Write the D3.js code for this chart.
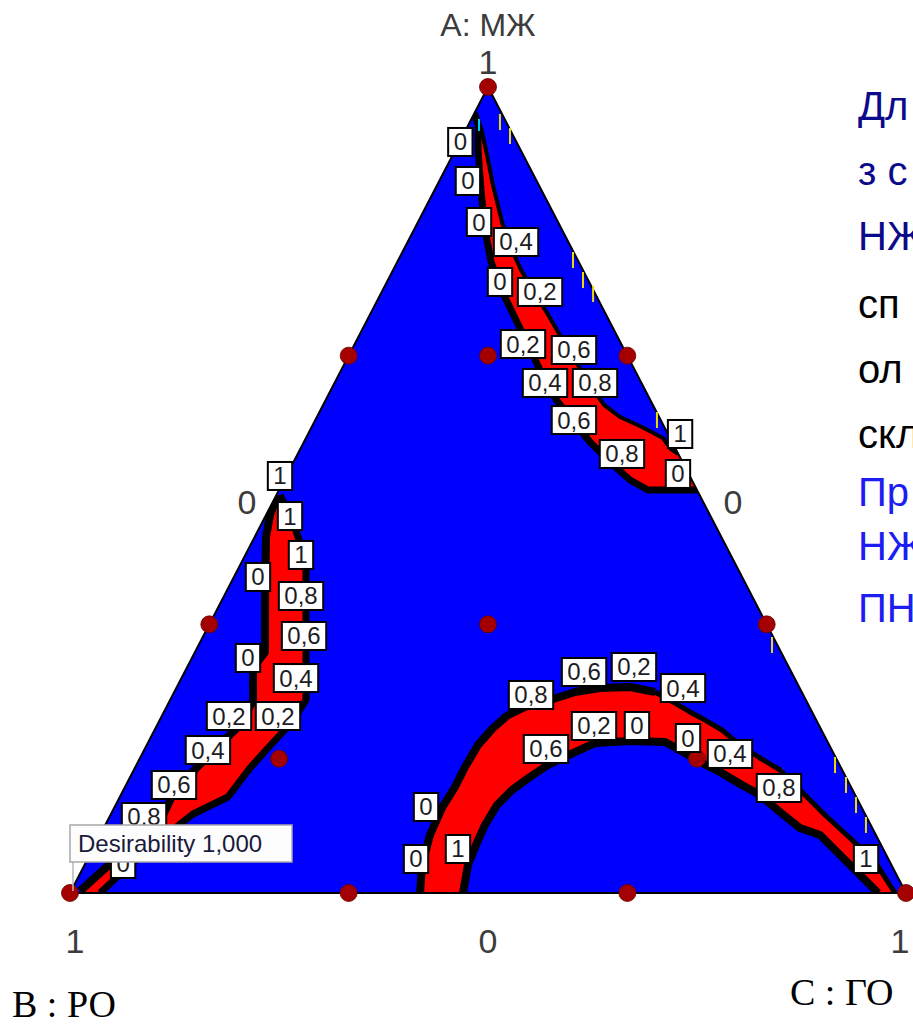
<!DOCTYPE html>
<html>
<head>
<meta charset="utf-8">
<script src="https://cdn.jsdelivr.net/npm/d3@7"></script>
<style>
  html, body { margin: 0; padding: 0; background: #fff; overflow: hidden; }
  svg { display: block; }
</style>
</head>
<body>
<svg id="chart" width="913" height="1027"></svg>
<script>
// Mixture components: A = МЖ (top vertex), B = РО (lower left), C = ГО (lower right).
// Every point below is [A, C]; the B share is 1 - A - C.

// Design points of the mixture plan
const designPoints = [
  [1, 0], [0, 0], [0, 1],
  [0.6667, 0], [0.3333, 0],
  [0.6667, 0.3333], [0.3333, 0.6667],
  [0, 0.3333], [0, 0.6667],
  [0.6667, 0.1667], [0.3333, 0.3333],
  [0.1667, 0.1667], [0.1667, 0.6667]
];

// Desirability band along the A–C edge (upper right)
const bandTopOuter = [
  [0.9677, 0.000], [0.9529, 0.0116], [0.9218, 0.0272], [0.8722, 0.0555],
  [0.8226, 0.0852], [0.7829, 0.1122], [0.7444, 0.1457], [0.7109, 0.1780],
  [0.6799, 0.2079], [0.6464, 0.2402], [0.6141, 0.2731], [0.5868, 0.3071],
  [0.5596, 0.3422], [0.5347, 0.3786], [0.5124, 0.4136], [0.5000, 0.4414],
  [0.5000, 0.5000]
];
const bandTopInner = [
  [0.9615, 0.0061], [0.9491, 0.0171], [0.9218, 0.0367], [0.8784, 0.0667],
  [0.8325, 0.1005], [0.8002, 0.1274], [0.7730, 0.1530], [0.7457, 0.1822],
  [0.7196, 0.2108], [0.6898, 0.2425], [0.6613, 0.2734], [0.6303, 0.3068],
  [0.6055, 0.3360], [0.5906, 0.3626], [0.5782, 0.3951], [0.5645, 0.4270],
  [0.5509, 0.4434], [0.5447, 0.4553]
];

// Desirability band near the A–B edge (left)
const bandLeftOuter = [
  [0.4938, 0.001], [0.4690, 0.0048], [0.4417, 0.0136], [0.3635, 0.0516],
  [0.2990, 0.0837], [0.2792, 0.0793], [0.2395, 0.0992], [0.2109, 0.1002],
  [0.1687, 0.0795], [0.1278, 0.0617], [0.0968, 0.0628], [0.0471, 0.0362],
  [0.0025, 0.0108]
];
const bandLeftInner = [
  [0.4938, 0.0043], [0.4628, 0.0342], [0.4280, 0.0635], [0.4007, 0.0819],
  [0.2395, 0.1626], [0.2122, 0.1594], [0.1799, 0.1469], [0.1551, 0.1378],
  [0.1191, 0.1294], [0.0980, 0.0981], [0.0658, 0.0748], [0.0347, 0.0544],
  [0.0000, 0.0359]
];

// Arch-shaped band resting on the B–C edge
const archOuter = [
  [0, 0.4187], [0.0347, 0.4037], [0.0720, 0.3946], [0.1055, 0.3922],
  [0.1315, 0.3947], [0.1563, 0.3944], [0.1836, 0.3962], [0.2047, 0.4036],
  [0.2208, 0.4135], [0.2308, 0.4288], [0.2395, 0.4544], [0.2494, 0.4794],
  [0.2543, 0.5068], [0.2556, 0.5421], [0.2494, 0.5751], [0.2357, 0.6059],
  [0.2246, 0.6293], [0.2146, 0.6523], [0.2022, 0.6788], [0.1836, 0.7096],
  [0.1675, 0.7416], [0.1526, 0.7730], [0.1278, 0.8093], [0.0968, 0.8547],
  [0.0682, 0.8989], [0.0385, 0.9437], [0, 0.9868]
];
const archInner = [
  [0, 0.4701], [0.0347, 0.4587], [0.0596, 0.4559], [0.0844, 0.4542],
  [0.1092, 0.4562], [0.1278, 0.4648], [0.1439, 0.4782], [0.1588, 0.4923],
  [0.1749, 0.5166], [0.1861, 0.5349], [0.1886, 0.5756], [0.1873, 0.6181],
  [0.1774, 0.6409], [0.1625, 0.6724], [0.1501, 0.7024], [0.1340, 0.7368],
  [0.1216, 0.7646], [0.1005, 0.7990], [0.0806, 0.8329], [0.0720, 0.8611],
  [0.0347, 0.9157], [0, 0.9665]
];

// Contour level labels: [text, A, C]
const contourLabels = [
  ["0", 0.9318, 0.001], ["0", 0.8834, 0.0343], ["0", 0.8325, 0.0730],
  ["0,4", 0.8077, 0.1297], ["0", 0.7581, 0.1353], ["0,2", 0.7457, 0.1894],
  ["0,2", 0.6811, 0.2013], ["0,6", 0.6737, 0.2660], ["0,4", 0.6328, 0.2518],
  ["0,8", 0.6328, 0.3116], ["0,6", 0.5868, 0.3094], ["0,8", 0.5447, 0.3879],
  ["1", 0.5695, 0.4450], ["0", 0.5199, 0.4673],

  ["1", 0.5174, -0.0075], ["1", 0.4677, 0.0293], ["1", 0.4194, 0.0666],
  ["0", 0.3921, 0.0288], ["0,8", 0.3685, 0.0921], ["0,6", 0.3189, 0.1205],
  ["0", 0.2916, 0.0671], ["0,4", 0.2667, 0.1370], ["0,2", 0.2196, 0.0804],
  ["0,2", 0.2196, 0.1390], ["0,4", 0.1774, 0.0763], ["0,6", 0.1340, 0.0574],
  ["0,8", 0.0943, 0.0414], ["0", 0.0360, 0.0455],

  ["0,8", 0.2457, 0.4286], ["0,6", 0.2742, 0.4778], ["0,2", 0.2804, 0.5344],
  ["0,4", 0.2543, 0.6061], ["0,2", 0.2072, 0.5232], ["0", 0.2072, 0.5746],
  ["0,6", 0.1787, 0.4800], ["0", 0.1923, 0.6431], ["0,4", 0.1725, 0.7032],
  ["0,8", 0.1303, 0.7829], ["0", 0.1067, 0.3725], ["0", 0.0422, 0.3928],
  ["1", 0.0546, 0.4368], ["1", 0.0422, 0.9311]
];

// Short contour fragments close to the A–C edge
const edgeFragments = [
  [0.9566, 0.0360], [0.9392, 0.0567], [0.7854, 0.2090], [0.7605, 0.2334],
  [0.7432, 0.2541], [0.5868, 0.4087], [0.3077, 0.6859], [0.1588, 0.8357],
  [0.1340, 0.8612], [0.1092, 0.8856], [0.0844, 0.9099]
];
const edgeFragmentsCyan = [[0.9529, 0.0128]];

// Vertex and edge tick labels: [text, A, C, side]
const axisTicks = [
  ["1", 1, 0, "top"],
  ["0", 0.5, 0, "left"],
  ["0", 0.5, 0.5, "right"],
  ["1", 0, 0, "bottom"],
  ["0", 0, 0.5, "bottom"],
  ["1", 0, 1, "bottom"]
];

const sideLines = [
  ["Дл", "#0a0a8a"], ["з с", "#0a0a8a"], ["НЖ", "#0a0a8a"],
  ["сп", "#000000"], ["ол", "#000000"], ["скл", "#000000"],
  ["Пр", "#1d1df2"], ["НЖ", "#1d1df2"], ["ПН", "#1d1df2"]
];

const optimumText = "Desirability 1,000";

// ---------------------------------------------------------------
const svg = d3.select("#chart");

// Ternary projection built from two linear scales:
// vertical from the A share, horizontal from C − B.
const yA = d3.scaleLinear().domain([0, 1]).range([893, 87]);
const xCB = d3.scaleLinear().domain([-1, 1]).range([70, 906]);
const px = d => xCB(d[1] - (1 - d[0] - d[1]));
const py = d => yA(d[0]);

const line = d3.line().x(px).y(py);

// Plot area
const corners = [[1, 0], [0, 0], [0, 1]];
svg.append("path")
  .attr("d", line(corners) + "Z")
  .attr("fill", "#0000ff");

// Red bands
const bands = [
  [bandTopOuter, bandTopInner],
  [bandLeftOuter, bandLeftInner],
  [archOuter, archInner]
];
svg.append("g").selectAll("path")
  .data(bands)
  .join("path")
  .attr("d", d => line(d[0].concat(d[1].slice().reverse())) + "Z")
  .attr("fill", "#ff0000")
  .attr("shape-rendering", "crispEdges");

// Contour lines (the arch's outer contour thins out past its crest)
const archCrest = 14;
const contourLines = [
  [bandTopOuter, 7], [bandTopInner, 4],
  [bandLeftOuter, 8], [bandLeftInner, 7],
  [archOuter.slice(0, archCrest + 1), 8], [archOuter.slice(archCrest), 5],
  [archInner, 8]
];
svg.append("g").selectAll("path")
  .data(contourLines)
  .join("path")
  .attr("d", d => line(d[0]))
  .attr("fill", "none")
  .attr("stroke", "#000")
  .attr("stroke-width", d => d[1])
  .attr("stroke-linejoin", "bevel");

// Clip contour ink to the triangle by repainting outside it white
svg.append("path")
  .attr("d", "M0,0H913V1027H0Z" + line(corners) + "Z")
  .attr("fill", "#fff")
  .attr("fill-rule", "evenodd");

// Triangle outline
svg.append("path")
  .attr("d", line(corners) + "Z")
  .attr("fill", "none")
  .attr("stroke", "#000")
  .attr("stroke-width", 2);

// Small contour fragments near the edge
svg.append("g").selectAll("line")
  .data(edgeFragments)
  .join("line")
  .attr("x1", px).attr("x2", px)
  .attr("y1", d => py(d) - 8).attr("y2", d => py(d) + 8)
  .attr("stroke", "#e8dc00").attr("stroke-width", 2);
svg.append("g").selectAll("line")
  .data(edgeFragmentsCyan)
  .join("line")
  .attr("x1", px).attr("x2", px)
  .attr("y1", d => py(d) - 6).attr("y2", d => py(d) + 6)
  .attr("stroke", "#00c8ff").attr("stroke-width", 2);

// Design points
svg.append("g").selectAll("circle")
  .data(designPoints)
  .join("circle")
  .attr("cx", px).attr("cy", py)
  .attr("r", 8.5)
  .attr("fill", "#a50000")
  .attr("stroke", "#6a0000")
  .attr("stroke-width", 0.8);

// Contour labels
const labelG = svg.append("g")
  .attr("font-family", "Arial, 'Liberation Sans', sans-serif")
  .attr("font-size", 24);
contourLabels.forEach(([t, a, c]) => {
  const g = labelG.append("g").attr("transform", `translate(${px([a, c])},${py([a, c])})`);
  const rect = g.append("rect");
  const txt = g.append("text")
    .attr("text-anchor", "middle")
    .attr("y", 8.5)
    .attr("fill", "#1c1c24")
    .text(t);
  const w = txt.node().getComputedTextLength() + 11;
  rect.attr("x", -w / 2).attr("y", -14).attr("width", w).attr("height", 28)
    .attr("fill", "#fff").attr("stroke", "#000").attr("stroke-width", 2);
});

// Optimum flag at the B vertex
const flagX = px([0, 0]);
svg.append("line")
  .attr("x1", flagX + 3).attr("x2", flagX + 3)
  .attr("y1", 862).attr("y2", py([0, 0]) - 2)
  .attr("stroke", "#b8b8b8").attr("stroke-width", 1.5);
svg.append("rect")
  .attr("x", flagX).attr("y", 825).attr("width", 222).attr("height", 37)
  .attr("fill", "#fdfdfd").attr("stroke", "#a8a8a8").attr("stroke-width", 1.5);
svg.append("text")
  .attr("x", flagX + 8).attr("y", 852)
  .attr("font-family", "Arial, 'Liberation Sans', sans-serif")
  .attr("font-size", 24)
  .attr("fill", "#1a1a3c")
  .text(optimumText);

// Axis titles and vertex / edge values
const axisFont = "Arial, 'Liberation Sans', sans-serif";
svg.append("text")
  .attr("x", px([1, 0])).attr("y", 36)
  .attr("text-anchor", "middle")
  .attr("font-family", axisFont).attr("font-size", 32)
  .attr("fill", "#3c3c3c")
  .text("A: МЖ");

svg.append("g").selectAll("text")
  .data(axisTicks)
  .join("text")
  .attr("x", d => {
    const x = px([d[1], d[2]]);
    if (d[3] === "left") return x - 32;
    if (d[3] === "right") return x + 36;
    if (d[3] === "bottom" && d[2] === 1) return x - 6;
    if (d[3] === "bottom" && d[1] === 0 && d[2] === 0) return x + 5;
    return x;
  })
  .attr("y", d => {
    const y = py([d[1], d[2]]);
    if (d[3] === "top") return y - 13;
    if (d[3] === "bottom") return y + 60;
    return y + 24;
  })
  .attr("text-anchor", "middle")
  .attr("font-family", axisFont).attr("font-size", 34)
  .attr("fill", "#3c3c3c")
  .text(d => d[0]);

svg.append("text")
  .attr("x", 12).attr("y", 1017)
  .attr("font-family", "'Liberation Serif', 'Times New Roman', serif")
  .attr("font-size", 38)
  .attr("fill", "#000")
  .text("B : РО");
svg.append("text")
  .attr("x", 790).attr("y", 1005)
  .attr("font-family", "'Liberation Serif', 'Times New Roman', serif")
  .attr("font-size", 38)
  .attr("fill", "#000")
  .text("C : ГО");

// Side note (runs off the right edge)
const sideBaselines = [120, 185, 250, 318, 383, 448, 506, 560, 622];
svg.append("g").selectAll("text")
  .data(sideLines)
  .join("text")
  .attr("x", 858)
  .attr("y", (d, i) => sideBaselines[i])
  .attr("font-family", axisFont).attr("font-size", 40)
  .attr("fill", d => d[1])
  .text(d => d[0]);
</script>
</body>
</html>
